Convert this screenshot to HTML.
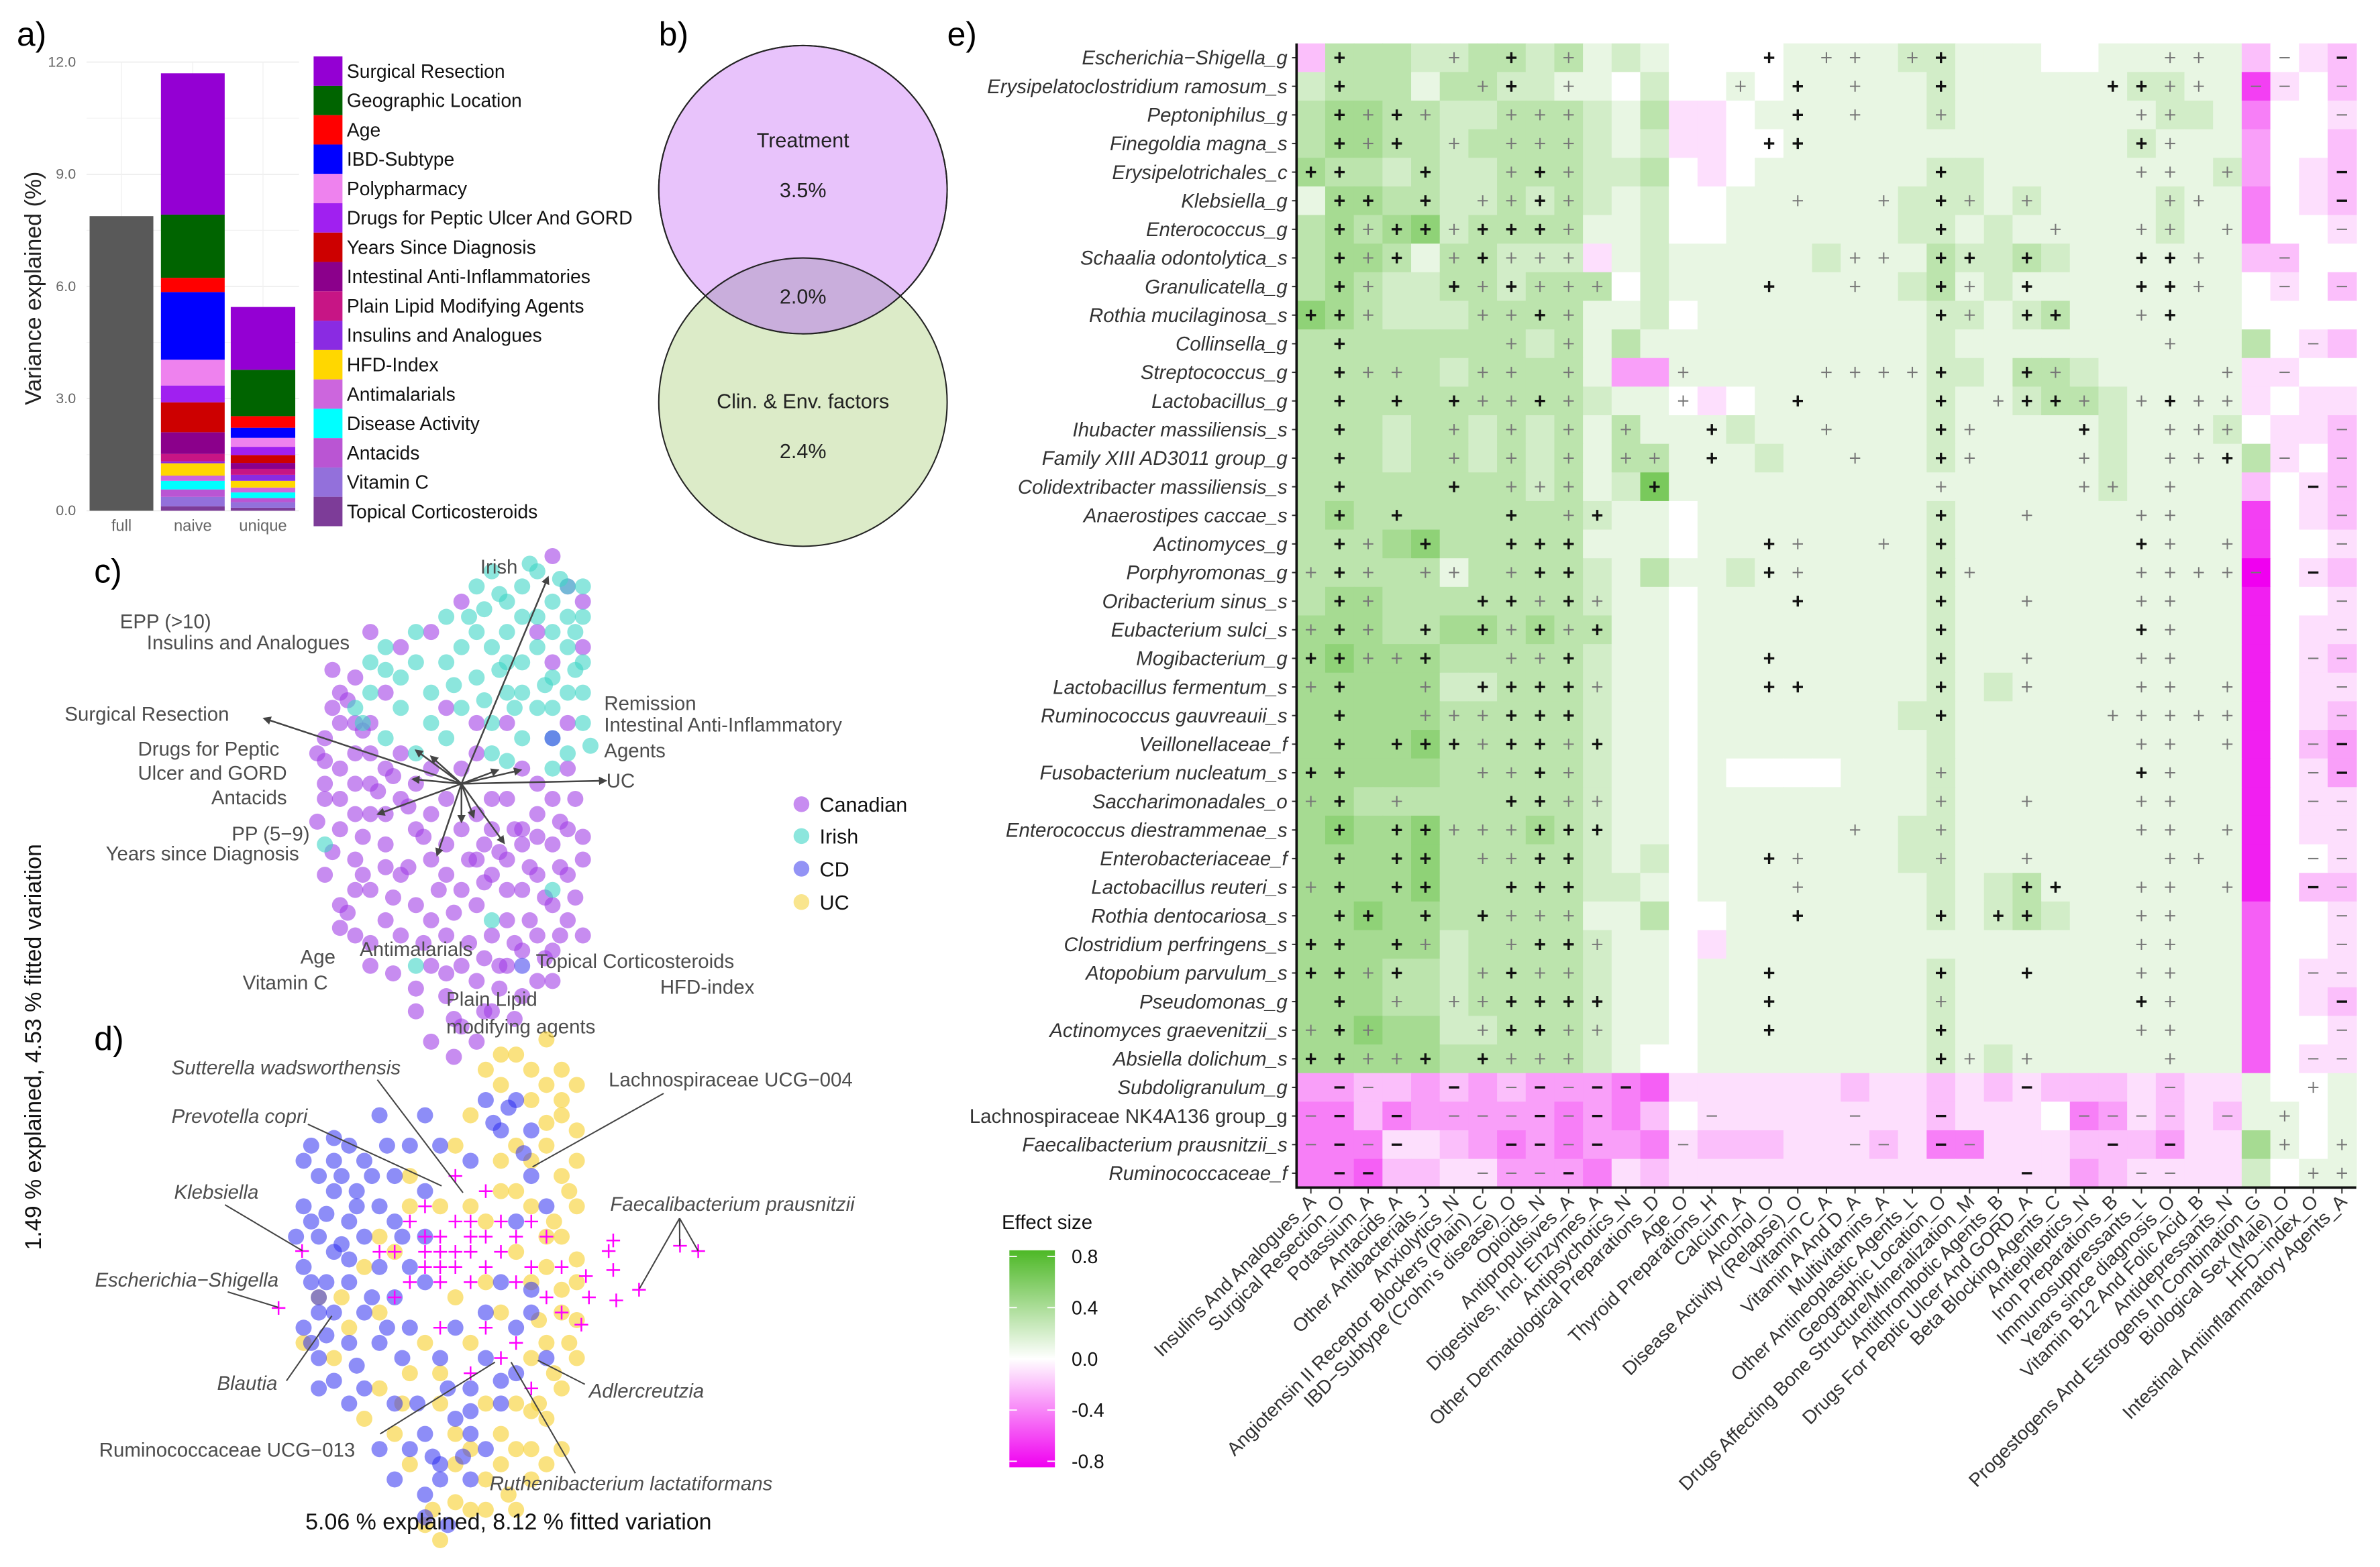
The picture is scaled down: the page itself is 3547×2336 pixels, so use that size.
<!DOCTYPE html>
<html><head><meta charset="utf-8"><style>
html,body{margin:0;padding:0;background:#fff}
svg{display:block}
text{font-family:"Liberation Sans",Arial,sans-serif}
</style></head><body>
<svg id="fig" xmlns="http://www.w3.org/2000/svg" width="3547" height="2336" viewBox="0 0 1568 1032.7">
<rect x="0" y="0" width="1568" height="1032.7" fill="#fff"/>
<g id="pa"></g>
<g id="pb"></g>
<g id="pc"></g>
<g id="pd"></g>
<g id="pe"></g>
</svg>
<script>
// ---------- Panel a data ----------
const barCats = ["full","naive","unique"];
const fullValue = [7.88];
const factorNames = ["Surgical Resection","Geographic Location","Age","IBD-Subtype","Polypharmacy","Drugs for Peptic Ulcer And GORD","Years Since Diagnosis","Intestinal Anti-Inflammatories","Plain Lipid Modifying Agents","Insulins and Analogues","HFD-Index","Antimalarials","Disease Activity","Antacids","Vitamin C","Topical Corticosteroids"];
const factorColors = ["#9400D3","#006400","#FF0000","#0000FF","#EE82EE","#A020F0","#CD0000","#8B008B","#C71585","#8A2BE2","#FFD700","#CC66DD","#00FFFF","#BA55D3","#9370DB","#7D3C98"];
const naiveValues = [3.78,1.69,0.38,1.81,0.69,0.45,0.80,0.58,0.20,0.05,0.33,0.14,0.23,0.20,0.25,0.12];
const uniqueValues = [1.68,1.24,0.31,0.27,0.24,0.22,0.21,0.16,0.16,0.16,0.18,0.13,0.15,0.11,0.15,0.08];
const aTicks = [0,3,6,9,12];

// ---------- Panel c data (PC units) ----------
const cIrish = [[1,13],[2,14],[3,12],[4,13],[5,11],[6,12],[7,13],[8,11],[3,10],[5,9],[7,9],[8,8],[2,9],[4,8],[6,7],[1,7],[3,6],[5,5],[7,6],[8,4],[2,4],[4,3],[6,3],[0,5],[6,10],[4,11],[7,11],[1,10],[8,13],[5,14],[3,8],[0,9],[6,5],[2,2],[7,2],[8,6],[4,6],[-5,9],[-4,7],[-6,6],[-3,8],[-2,6],[-1,8],[-4,5],[-2,4],[-5,3],[-3,2],[-1,3],[-6,8],[-7,5],[-9,-4],[-3,-12],[2,-9],[6,-7],[1.5,11.5],[2.5,12.5],[4.5,14.5],[6.5,13.5],[7.5,10],[5.5,6.5],[3.5,5],[1.5,5.5],[2.5,7.5],[0.5,11],[-1,11],[-3,10],[-5,7.5],[-6.5,4],[7.5,7.5],[8.5,2.5],[6,1],[3,1.5],[-0.5,6.5]];
const cCanadian = [[-8,6],[-7,4],[-9,3],[-6,2],[-8,1],[-9,-1],[-7,0],[-6,-2],[-8,-3],[-7,-5],[-9,-6],[-6,-7],[-8,-8],[-5,-4],[-4,-6],[-5,1],[-4,-1],[-3,-3],[-5,-9],[-7,-10],[-6,4],[-4,2],[-3,0],[-2,-2],[-2,-5],[-3,-8],[-1,-4],[-1,-1],[-8,-1],[-7,2],[-9,0],[-6,0],[-5,-2],[-7,-7],[-4,-10],[-2,-9],[-6,-12],[-5,6],[-7,7],[-8,4],[1,-2],[2,-3],[3,-1],[4,-3],[5,-2],[6,-4],[7,-3],[1,-5],[2,-6],[3,-5],[4,-7],[5,-6],[6,-8],[7,-6],[1,-8],[2,-10],[3,-9],[4,-11],[5,-10],[6,-11],[7,-9],[0,-7],[-1,-10],[0,-12],[1,-13],[3,-12],[4,-14],[5,-13],[2,-15],[-1,-14],[0,-16],[-2,-17],[1,-17],[-3,-15],[-2,-12],[6,-13],[3,-7],[4,-4],[2,-1],[5,0],[6,-1],[7,1],[0,-3],[-1,-6],[8,-5],[8,-10],[7,13],[5,10],[6,8],[8,9],[3,4],[4,1],[1,2],[-1,5],[7,4],[8,12],[6,15],[1,4],[-2,1],[0,1],[-8.5,5],[-9.5,2],[-6.5,-3.5],[-7.5,-8.5],[-4.5,-7.5],[2.5,-12],[4.5,-9],[6.5,-10],[-0.5,-15.5],[1.5,-4],[-8.5,7.5],[-7.5,5.5],[-6.5,3.5],[-9.5,-2.5],[-8.5,-4.5],[-6.5,-6],[-5.5,-0.5],[-4.5,0.5],[-3.5,-1.5],[-2.5,-3.5],[-3.5,-5.5],[-1.5,-7],[-0.5,-8.5],[-2.5,-10.5],[-4.5,-12.5],[-3,-13.5],[-1,-12.5],[0.5,-10.5],[1.5,-11.5],[2.5,-13.5],[3.5,-10.5],[5.5,-11.5],[6.5,-5.5],[7.5,-7.5],[5.5,-7.5],[4.5,-5.5],[3.5,-3],[2.5,-4.5],[1.5,-6.5],[0.5,-5],[6.5,-2.5],[7.5,-1],[8,-3.5],[5,-3.5],[-6,10],[-4,9],[-2,10],[0,12],[-5,-5.5],[-7,-2],[-9,1.5],[-8,-9.5],[-6,-10.5],[-0.5,-18],[1.5,-15],[3.5,-15.5]];
const cCD = [[4,-12],[6,3]];
const cArrowTips = [[5.7,13.6],[-13,4.3],[9.5,0.2],[-3.2,0.3],[-5.5,-2],[-1.6,-4.7],[0,-2.5],[2.8,-3.9],[-3,2.2],[-2,1.8],[3.9,0.9],[0.8,-2.2],[2.4,0.9]];

// ---------- Panel d data (PC units) ----------
const dCD = [[-8,6],[-9,4],[-7,5],[-8,2],[-9,0],[-7,1],[-6,3],[-8,-2],[-7,-3],[-9,-4],[-6,-1],[-5,2],[-5,-3],[-6,-5],[-8,-6],[-4,0],[-4,4],[-3,6],[-5,7],[-6,8],[-2,8],[-3,3],[-2,0],[-3,-2],[-4,-5],[-2,-4],[-1,-1],[-1,5],[0,8],[-1,10],[-4,10],[2,7],[4,9],[5,11],[3,11],[6,6],[7,4],[5,3],[4,-1],[5,-4],[3,-6],[2,-8],[4,-9],[1,-10],[3,-12],[0,-13],[-1,-11],[-3,-9],[-5,-8],[-2,-12],[-1,-15],[0,-14],[2,-14],[-6,-9],[6,-3],[7,-6],[5,-7],[3,-3],[1,-4],[-7,7],[-9,7],[-8,-8],[-1,2],[0,-6],[-4,-12],[-3,-14],[2,-11],[6,9],[-8.5,3],[-7.5,-1],[-6.5,1.5],[-8.5,-5],[-5.5,5],[-7,8.5],[-8.5,8],[-7.5,3.5],[-9.5,2],[-6.5,6],[-5.5,4],[-4.5,6],[-3.5,8],[-2.5,2],[-4.5,-2],[-5.5,-6.5],[-7.5,-4.5],[-8.5,-1],[-6,0.5],[-3.5,-4],[-2.5,-6],[-1.5,-9],[0.5,-8],[1.5,-12.5],[-0.5,-12.5],[3.5,9.5],[4.5,10.5],[5.5,7.5],[6,-1.5],[4,-7.5],[2,-9.5],[-1,-16.5],[0.5,-17],[-7,-7.5],[-8,-3]];
const dUC = [[3,13],[5,14],[7,12],[8,10],[6,11],[4,12],[9,9],[7,8],[5,8],[8,6],[9,4],[6,4],[4,5],[8,2],[7,0],[9,-1],[6,-1],[5,1],[8,-3],[7,-5],[9,-6],[6,-6],[8,-8],[4,-3],[3,-1],[2,-5],[5,-9],[7,-10],[4,-11],[6,-12],[3,-14],[1,-13],[2,-16],[-1,-17],[5,-16],[4,-13],[0,-9],[-2,-7],[-4,-3],[-6,-4],[-5,0],[-3,1],[-7,-6],[-5,-10],[-3,-11],[-1,-5],[1,-2],[2,4],[1,8],[-2,4],[-8,-2],[-9,-5],[7,15],[8,13],[9,12],[6,-14],[0,-18],[1,-11],[-2,-13],[9,7],[8,-12],[8.5,-5],[7.5,3],[6.5,-9],[4,14],[6,13],[8,11],[7,9.5],[6,7],[8.5,5],[7,2],[9,0.5],[8,-1.5],[6.5,-3.5],[9,-3.5],[7.5,-7],[6,-9.5],[4.5,-15],[3,-16],[1,-15.5],[-0.5,-16],[2,-12],[5,-12],[7,-13],[3,-9],[0,-7],[-2.5,-9],[-4,-8],[-6.5,-2],[-4,2],[-2,6],[0,4],[3,3],[5,5],[2,10],[4,7]];
const dTaxa = [[0,2],[1,3],[2,2],[1,1],[0,1],[-1,2],[2,1],[1,0],[0,0],[-1,1],[2,3],[3,2],[-2,3],[-1,0],[3,0],[4,1],[-3,1],[2,-1],[0,-1],[-2,-1],[4,3],[5,2],[6,0],[5,-1],[7,-2],[6,3],[3,5],[-1,4],[1,6],[-4,1],[-3,-2],[0,-4],[3,-4],[5,-5],[6,-8],[2,-7],[4,-6],[8,-3],[8,0],[7,2],[-9.1,1.05],[-10.65,-2.7],[15.8,1.4],[17,1.05],[13.1,-1.5],[11.4,1.75],[11.1,1.05],[11.4,-0.2],[9.6,-0.6],[9.8,-2],[11.6,-2.2],[9.3,-3.8]];

// ---------- Panel e data ----------
const rowLabels = ["Escherichia−Shigella_g","Erysipelatoclostridium ramosum_s","Peptoniphilus_g","Finegoldia magna_s","Erysipelotrichales_c","Klebsiella_g","Enterococcus_g","Schaalia odontolytica_s","Granulicatella_g","Rothia mucilaginosa_s","Collinsella_g","Streptococcus_g","Lactobacillus_g","Ihubacter massiliensis_s","Family XIII AD3011 group_g","Colidextribacter massiliensis_s","Anaerostipes caccae_s","Actinomyces_g","Porphyromonas_g","Oribacterium sinus_s","Eubacterium sulci_s","Mogibacterium_g","Lactobacillus fermentum_s","Ruminococcus gauvreauii_s","Veillonellaceae_f","Fusobacterium nucleatum_s","Saccharimonadales_o","Enterococcus diestrammenae_s","Enterobacteriaceae_f","Lactobacillus reuteri_s","Rothia dentocariosa_s","Clostridium perfringens_s","Atopobium parvulum_s","Pseudomonas_g","Actinomyces graevenitzii_s","Absiella dolichum_s","Subdoligranulum_g","Lachnospiraceae NK4A136 group_g","Faecalibacterium prausnitzii_s","Ruminococcaceae_f"];
const colLabels = ["Insulins And Analogues_A","Surgical Resection_O","Potassium_A","Antacids_A","Other Antibacterials_J","Anxiolytics_N","Angiotensin II Receptor Blockers (Plain)_C","IBD−Subtype (Crohn's disease)_O","Opioids_N","Antipropulsives_A","Digestives, Incl. Enzymes_A","Antipsychotics_N","Other Dermatological Preparations_D","Age_O","Thyroid Preparations_H","Calcium_A","Alcohol_O","Disease Activity (Relapse)_O","Vitamin C_A","Vitamin A And D_A","Multivitamins_A","Other Antineoplastic Agents_L","Geographic Location_O","Drugs Affecting Bone Structure/Mineralization_M","Antithrombotic Agents_B","Drugs For Peptic Ulcer And GORD_A","Beta Blocking Agents_C","Antiepileptics_N","Iron Preparations_B","Immunosuppressants_L","Years since diagnosis_O","Vitamin B12 And Folic Acid_B","Antidepressants_N","Progestogens And Estrogens In Combination_G","Biological Sex (Male)_O","HFD−index_O","Intestinal Antiinflammatory Agents_A"];
const effectRows = [
"b333223323121"+"000011112"+"21110011111"+"b0ab",
"2333133221102"+"001011111"+"21111112211"+"fa0b",
"3443322333213"+"aa0111111"+"21111111221"+"d00a",
"3443323333212"+"aa0011111"+"11111112111"+"c00b",
"4332322333223"+"0a0111111"+"22111111112"+"c0ab",
"1443322323212"+"001111112"+"22121111211"+"d0ab",
"3434523333112"+"001111112"+"21211111211"+"d00a",
"3443133222a12"+"111112111"+"32232111111"+"bb00",
"3432233233302"+"111111112"+"31211111111"+"0a0b",
"5432223333112"+"011111111"+"22123111111"+"0000",
"3333333323131"+"111111111"+"21111111111"+"30ab",
"33333233331cc"+"111111111"+"22133211111"+"aa00",
"3333333333211"+"0a0111111"+"21123321111"+"a0aa",
"3332332323131"+"112111111"+"21111121112"+"0aab",
"3332332323133"+"111211111"+"21111121111"+"3a0b",
"3333333323126"+"111111111"+"11111121111"+"b0ab",
"3433333333211"+"011111111"+"21111111111"+"f0ab",
"3334533333111"+"011111111"+"21111111111"+"f00a",
"3333313333213"+"112111111"+"21111111111"+"h0ab",
"3443333333211"+"011111111"+"21111111111"+"g00a",
"4443344343311"+"011111111"+"21111111111"+"g0aa",
"4544433333211"+"011111111"+"21111111111"+"g0ab",
"4444422333211"+"011111111"+"21211111111"+"g0aa",
"4444433333211"+"011111112"+"21111111111"+"g0ab",
"4444533333211"+"011111111"+"21111111111"+"g0bc",
"4444433333211"+"010000111"+"21111111111"+"g0ac",
"4433333333211"+"011111111"+"21111111111"+"g0aa",
"4544533343211"+"011111112"+"21111111111"+"g0aa",
"4444533333212"+"011111112"+"21111111111"+"g00a",
"4444533333221"+"011111111"+"21231111111"+"g0bb",
"4454433333113"+"001111111"+"21232111111"+"e00a",
"4444423333211"+"0a1111111"+"11111111111"+"e00a",
"4443323333211"+"011111111"+"21111111111"+"e0aa",
"4443323333211"+"011111111"+"21111111111"+"e0ab",
"4454422333211"+"011111111"+"21111111111"+"e00a",
"4444433333210"+"011111111"+"21211111111"+"e0aa",
"ccbbcbcbcccde"+"aaaaaabaa"+"bababbbabaa"+"1001",
"ddbdcccccdcdb"+"0aaaaaaaa"+"baaa0dcabab"+"1101",
"dddaabcdcdccd"+"abbbaaaba"+"ddaaabbbcaa"+"4101",
"ddebbaacccdab"+"aaaaaaaaa"+"aaaaacbaaaa"+"2011"];
const signifRows = [
".P...+.P.+"+"......P.++"+".+P......."+"++..-.M",
".P....+P.+"+".....+.P.+"+"..P.....PP"+"++.--.-",
".P+P+..+++"+".......P.+"+"..+......+"+"+.....-",
".P+P.+.+++"+"......PP.."+".........P"+"+......",
"PP..P..+P+"+".........."+"..P......+"+"+.+...M",
".PP.P.++P+"+".......+.."+"+.P+.+...."+"++....M",
".P+PP+PPP+"+".........."+"..P...+..+"+"+.+...-",
".P+P.+P+++"+".........+"+"+.PP.P...P"+"P+..-..",
".P+..P+P++"+"+.....P..+"+"..P+.P...P"+"P+..-.-",
"PP+...++P+"+".........."+"..P+.PP..+"+"P......",
".P.....+.+"+".........."+".........."+"+....-.",
".P++..++.+"+"...+....++"+"++P..P+..."+"..+.-..",
".P.P.P++P+"+"...+...P.."+"..P.+PP+.+"+"P++....",
".P...+.+.+"+".+..P...+."+"..P+...P.."+"+++...-",
".P...+.+.+"+".++.P....+"+"..P+...+.."+"++P.-.-",
".P...P.+++"+"..P......."+"..+....++."+"+....M-",
".P.P...P.+"+"P........."+"..P..+...+"+"+.....-",
".P+.P..PPP"+"......P+.."+"+.P......P"+"+.+...-",
"+P+.++.+PP"+"......P+.."+"..P+.....+"+"+++-.M.",
".P+...PP+P"+"+......P.."+"..P..+...+"+"+.....-",
"+P+.P.P+P+"+"P........."+"..P......P"+"+.....-",
"PP++P..++P"+"......P..."+"..P..+...+"+"+....--",
"+P..+.PPPP"+"+.....PP.."+"..P..+...+"+"+.+...-",
".P..+++PPP"+".........."+"..P.....++"+"+++...-",
".P.PPP+PP+"+"P........."+".........+"+"+.+..-M",
"PP....++P+"+".........."+"..+......P"+"+....-M",
"+P.+...PP+"+"+........."+"..+..+...+"+"+....--",
".P.PP+++PP"+"P........+"+"..+......+"+"+.+...-",
".P.PP.++PP"+"......P+.."+"..+..+...."+"++...--",
"+P.PP..PPP"+".......+.."+".....PP..+"+"+.+..M-",
".PP.P.P+++"+".......P.."+"..P.PP...+"+"+.....-",
"PP.P+..+PP"+"+........."+".........+"+"+.....-",
"PP+P..+P++"+"......P..."+"..P..P...+"+"+....--",
".P.+.++PPP"+"P.....P..."+"..+......P"+"+.....M",
"+P+...+PP+"+"+.....P..."+"..P......+"+"+.....-",
"PP++P.P+++"+".........."+"..P+.+...."+"+....--",
".M-..M.-M-"+"MM........"+".....M...."+"-....+.",
"-M.M.---M-"+"M...-....-"+"..M....---"+"-.-.+..",
"-M-M...MM-"+"M..-.....-"+"-.M-....M."+"M...+.+",
".MM...---M"+".........."+".....M...-"+"-....++"];
const legendTicks = [0.8,0.4,0.0,-0.4,-0.8];

const NS = "http://www.w3.org/2000/svg";
function mk(tag, attrs, parent, txt){
  const e = document.createElementNS(NS, tag);
  for (const k in attrs) e.setAttribute(k, attrs[k]);
  if (txt !== undefined) e.textContent = txt;
  parent.appendChild(e);
  return e;
}
const pa = document.getElementById('pa'), pb = document.getElementById('pb'), pc = document.getElementById('pc'), pd = document.getElementById('pd'), pe = document.getElementById('pe');

// ================= PANEL A =================
(function(){
  const yA = v => 336.6 - v * 24.64;
  const bx = {full:[59,101], naive:[106,148], unique:[152,194.5]};
  let t = mk('text',{x:11,y:30,'font-size':22,fill:'#000'},pa,'a)');
   
  for (let i=0;i<aTicks.length;i++){
    const g = mk('line',{x1:57,x2:197,y1:yA(aTicks[i]),y2:yA(aTicks[i]),stroke:'#ebebeb','stroke-width':0.7},pa);
     
    if (i<aTicks.length-1){
      const m = mk('line',{x1:57,x2:197,y1:yA(aTicks[i]+1.5),y2:yA(aTicks[i]+1.5),stroke:'#f3f3f3','stroke-width':0.5},pa);
       
    }
    const tl = mk('text',{x:50,y:yA(aTicks[i])+3,'font-size':9.5,fill:'#666','text-anchor':'end'},pa,aTicks[i].toFixed(1));
     
  }
  for (const c of barCats){
    const cx=(bx[c][0]+bx[c][1])/2;
    const g = mk('line',{x1:cx,x2:cx,y1:yA(12),y2:yA(0),stroke:'#f1f1f1','stroke-width':0.6},pa);
     
    const l = mk('text',{x:cx,y:350,'font-size':10.5,fill:'#666','text-anchor':'middle'},pa,c);
     
  }
  const fb = mk('rect',{x:bx.full[0],width:bx.full[1]-bx.full[0],y:yA(fullValue[0]),height:yA(0)-yA(fullValue[0]),fill:'#595959'},pa);
   
  function stack(vals,key){
    let cum=0;
    for (let i=vals.length-1;i>=0;i--){
      const r = mk('rect',{x:bx[key][0],width:bx[key][1]-bx[key][0],y:yA(cum+vals[i]),height:yA(cum)-yA(cum+vals[i]),fill:factorColors[i]},pa);
       
      cum+=vals[i];
    }
  }
  stack(naiveValues,'naive'); stack(uniqueValues,'unique');
  const yl = mk('text',{x:0,y:0,'font-size':15,fill:'#222','text-anchor':'middle',transform:'translate(27,190) rotate(-90)'},pa,'Variance explained (%)');
   
  for (let i=0;i<factorNames.length;i++){
    const y0=37.2+i*19.35;
    const sw = mk('rect',{x:206.6,y:y0,width:19,height:19.35,fill:factorColors[i]},pa);
     
    const lt = mk('text',{x:228.5,y:y0+14,'font-size':12.5,fill:'#111'},pa,factorNames[i]);
     
  }
})();

// ================= PANEL B =================
(function(){
  let t = mk('text',{x:434,y:30,'font-size':22,fill:'#000'},pb,'b)');
   
  const defs = mk('defs',{},pb);
  const cp = mk('clipPath',{id:'topclip'},defs);
  mk('circle',{cx:529,cy:125,r:95},cp);
  const c2 = mk('circle',{cx:529,cy:265,r:95,fill:'#dcebc8',stroke:'#222','stroke-width':0.9},pb);
   
  const c1 = mk('circle',{cx:529,cy:125,r:95,fill:'#e8c3fb',stroke:'#222','stroke-width':0.9},pb);
   
  const ov = mk('circle',{cx:529,cy:265,r:95,fill:'#c9aedc',stroke:'#222','stroke-width':0.9,'clip-path':'url(#topclip)'},pb);
   
  const arc = mk('circle',{cx:529,cy:125,r:95,fill:'none',stroke:'#222','stroke-width':0.9},pb);
   
  const labs=[['Treatment',529,97],['3.5%',529,130],['2.0%',529,200],['Clin. & Env. factors',529,269],['2.4%',529,302]];
  for (const l of labs){
    const e = mk('text',{x:l[1],y:l[2],'font-size':13.5,fill:'#222','text-anchor':'middle'},pb,l[0]);
     
  }
})();

// ================= PANEL C =================
(function(){
  const xC = v => 304 + v*10, yC = v => 516.5 - v*10;
  let t = mk('text',{x:62,y:384,'font-size':22,fill:'#000'},pc,'c)');
   
  function dots(arr,col,name){
    for (const p of arr){
      const d = mk('circle',{cx:xC(p[0]),cy:yC(p[1]),r:5.3,fill:col,'fill-opacity':0.6},pc);
       
    }
  }
  dots(cCanadian,'#a23fe6','point-canadian');
  dots(cIrish,'#3fd6c6','point-irish');
  dots(cCD,'#4b4bef','point-cd');
  const defs = mk('defs',{},pc);
  const m = mk('marker',{id:'arr',viewBox:'0 0 10 10',refX:8,refY:5,markerWidth:5,markerHeight:5,orient:'auto'},defs);
  mk('path',{d:'M0,0 L10,5 L0,10 z',fill:'#444'},m);
  for (const tip of cArrowTips){
    const a = mk('line',{x1:xC(0),y1:yC(0),x2:xC(tip[0]),y2:yC(tip[1]),stroke:'#444','stroke-width':1.1,'marker-end':'url(#arr)'},pc);
     
  }
  const labs=[['Irish',341,378,'end'],['EPP (>10)',79,414,'start'],['Insulins and Analogues',96.7,428,'start'],['Surgical Resection',42.6,475,'start'],['Drugs for Peptic',184,498,'end'],['Ulcer and GORD',189,514,'end'],['Antacids',189,530,'end'],['PP (5−9)',204,554,'end'],['Years since Diagnosis',197,567,'end'],['Remission',398,468,'start'],['Intestinal Anti-Inflammatory',398,482,'start'],['Agents',398,499,'start'],['UC',399.5,519,'start'],['Age',221,635,'end'],['Vitamin C',216,652,'end'],['Antimalarials',237,630,'start'],['Topical Corticosteroids',353,638,'start'],['HFD-index',497,655,'end'],['Plain Lipid',294,663,'start'],['modifying agents',294,681,'start']];
  for (const l of labs){
    const e = mk('text',{x:l[1],y:l[2],'font-size':13,fill:'#4d4d4d','text-anchor':l[3]},pc,l[0]);
     
  }
  const leg=[['Canadian','#a23fe6',530],['Irish','#3fd6c6',551],['CD','#4b4bef',572.5],['UC','#f5d442',594.5]];
  for (const l of leg){
    const d = mk('circle',{cx:528,cy:l[2],r:5.2,fill:l[1],'fill-opacity':0.6},pc);
     
    const e = mk('text',{x:540,y:l[2]+5,'font-size':13.5,fill:'#111'},pc,l[0]);
     
  }
  const yl = mk('text',{x:0,y:0,'font-size':15,fill:'#111','text-anchor':'middle',transform:'translate(27,690) rotate(-90)'},pc,'1.49 % explained, 4.53 % fitted variation');
   
})();

// ================= PANEL D =================
(function(){
  const xD = v => 290 + v*10, yD = v => 835 - v*10;
  let t = mk('text',{x:62,y:692,'font-size':22,fill:'#000'},pd,'d)');
   
  for (const p of dUC){
    const d = mk('circle',{cx:xD(p[0]),cy:yD(p[1]),r:5.3,fill:'#f7d23c','fill-opacity':0.65},pd);
     
  }
  for (const p of dCD){
    const d = mk('circle',{cx:xD(p[0]),cy:yD(p[1]),r:5.3,fill:'#2f2ff0','fill-opacity':0.55},pd);
     
  }
  for (const p of dTaxa){
    const x=xD(p[0]), y=yD(p[1]);
    const d = mk('path',{d:`M${x-4.5},${y}H${x+4.5}M${x},${y-4.5}V${y+4.5}`,stroke:'#ff00ff','stroke-width':1.1},pd);
     
  }
  const lines=[[248.6,711.6,305,786],[202.8,740.9,290.9,781.5],[437.2,720.6,350.8,769],[148.2,794,199.3,824.3],[447.7,802.9,447.8,821],[447.7,802.9,460,824.5],[447.7,802.9,421.3,849.2],[150,851.4,183.4,861.6],[188.7,910,218.6,867.2],[385.3,912.3,354.3,896.5],[250.4,945,326.1,897.7],[379,970.9,336.7,897.7]];
  for (const l of lines){
    const e = mk('line',{x1:l[0],y1:l[1],x2:l[2],y2:l[3],stroke:'#444','stroke-width':0.9},pd);
     
  }
  const labs=[['Sutterella wadsworthensis',113,708,1],['Prevotella copri',113,740,1],['Lachnospiraceae UCG−004',401,716,0],['Klebsiella',114.7,790,1],['Faecalibacterium prausnitzii',402,798,1],['Escherichia−Shigella',62.5,848,1],['Blautia',143,916,1],['Adlercreutzia',388,921,1],['Ruminococcaceae UCG−013',65.3,960,0],['Ruthenibacterium lactatiformans',322.6,982,1]];
  for (const l of labs){
    const e = mk('text',{x:l[1],y:l[2],'font-size':13,fill:'#4d4d4d','font-style':l[3]?'italic':'normal'},pd,l[0]);
     
  }
  const xl = mk('text',{x:335,y:1008,'font-size':15,fill:'#111','text-anchor':'middle'},pd,'5.06 % explained, 8.12 % fitted variation');
   
})();

// ================= PANEL E =================
(function(){
  const X0=854.2, CW=18.87, Y0=28.6, RH=18.85;
  const nR=rowLabels.length, nC=colLabels.length;
  const colX = j => X0 + j*CW, rowY = i => Y0 + i*RH;
  function decode(ch){ if (ch>='0'&&ch<='9') return (+ch)/10; return -((ch.charCodeAt(0)-96)/10); }
  function color(v){
    v=Math.max(-0.8,Math.min(0.8,v));
    let r,g,b,t;
    if (v>=0){ t=v/0.8; r=255+(77-255)*t; g=255+(184-255)*t; b=255+(38-255)*t; }
    else { t=-v/0.8; r=255+(240-255)*t; g=255+(0-255)*t; b=255+(240-255)*t; }
    return `rgb(${r|0},${g|0},${b|0})`;
  }
  let t = mk('text',{x:624,y:30,'font-size':22,fill:'#000'},pe,'e)');
   
  for (let i=0;i<nR;i++){
    for (let j=0;j<nC;j++){
      const v=decode(effectRows[i][j]);
      const c = mk('rect',{x:colX(j),y:rowY(i),width:CW+0.4,height:RH+0.4,fill:color(v)},pe);
       
      const s=signifRows[i][j];
      if (s!=='.'){
        const cx=colX(j)+CW/2, cy=rowY(i)+RH/2;
        const strong=(s==='P'||s==='M');
        const col=strong?'#111':'#777', sw=strong?1.5:0.9;
        let d=`M${cx-3.4},${cy}H${cx+3.4}`;
        if (s==='P'||s==='+') d+=`M${cx},${cy-3.6}V${cy+3.6}`;
        const m = mk('path',{d:d,stroke:col,'stroke-width':sw},pe);
         
      }
    }
    const lab = mk('text',{x:X0-6,y:rowY(i)+RH/2+4.5,'font-size':13,fill:'#333','text-anchor':'end','font-style':rowLabels[i].indexOf('Lachnospiraceae')===0?'normal':'italic'},pe,rowLabels[i]);
     
    const tk = mk('line',{x1:X0-3,x2:X0,y1:rowY(i)+RH/2,y2:rowY(i)+RH/2,stroke:'#333','stroke-width':0.9},pe);
     
  }
  const yB=rowY(nR);
  for (let j=0;j<nC;j++){
    const cx=colX(j)+CW/2;
    const tk = mk('line',{x1:cx,x2:cx,y1:yB,y2:yB+4,stroke:'#333','stroke-width':0.9},pe);
     
    const lab = mk('text',{x:0,y:0,'font-size':12.5,fill:'#333','text-anchor':'end',transform:`translate(${cx+4},${yB+10}) rotate(-45)`},pe,colLabels[j]);
     
  }
  const ax = mk('path',{d:`M${X0},${Y0}V${yB}H${colX(nC)}`,fill:'none',stroke:'#111','stroke-width':1.6},pe);
   
  const lt = mk('text',{x:660,y:810,'font-size':13,fill:'#111'},pe,'Effect size');
   
  const defs = mk('defs',{},pe);
  const gr = mk('linearGradient',{id:'esg',x1:0,y1:0,x2:0,y2:1},defs);
  mk('stop',{offset:'0','stop-color':color(0.8)},gr);
  mk('stop',{offset:'0.25','stop-color':color(0.4)},gr);
  mk('stop',{offset:'0.5','stop-color':color(0)},gr);
  mk('stop',{offset:'0.75','stop-color':color(-0.4)},gr);
  mk('stop',{offset:'1','stop-color':color(-0.8)},gr);
  const yL = v => 895.5 - v*(135/1.6);
  const cb = mk('rect',{x:665,y:yL(0.8)-4,width:30,height:yL(-0.8)-yL(0.8)+8,fill:'url(#esg)'},pe);
   
  for (const v of legendTicks){
    const l1 = mk('line',{x1:665,x2:670,y1:yL(v),y2:yL(v),stroke:'#fff','stroke-width':0.8},pe);
     
    const l2 = mk('line',{x1:690,x2:695,y1:yL(v),y2:yL(v),stroke:'#fff','stroke-width':0.8},pe);
     
    const tl = mk('text',{x:706,y:yL(v)+4.5,'font-size':12.5,fill:'#111'},pe,v.toFixed(1));
     
  }
})();
</script>
</body></html>
